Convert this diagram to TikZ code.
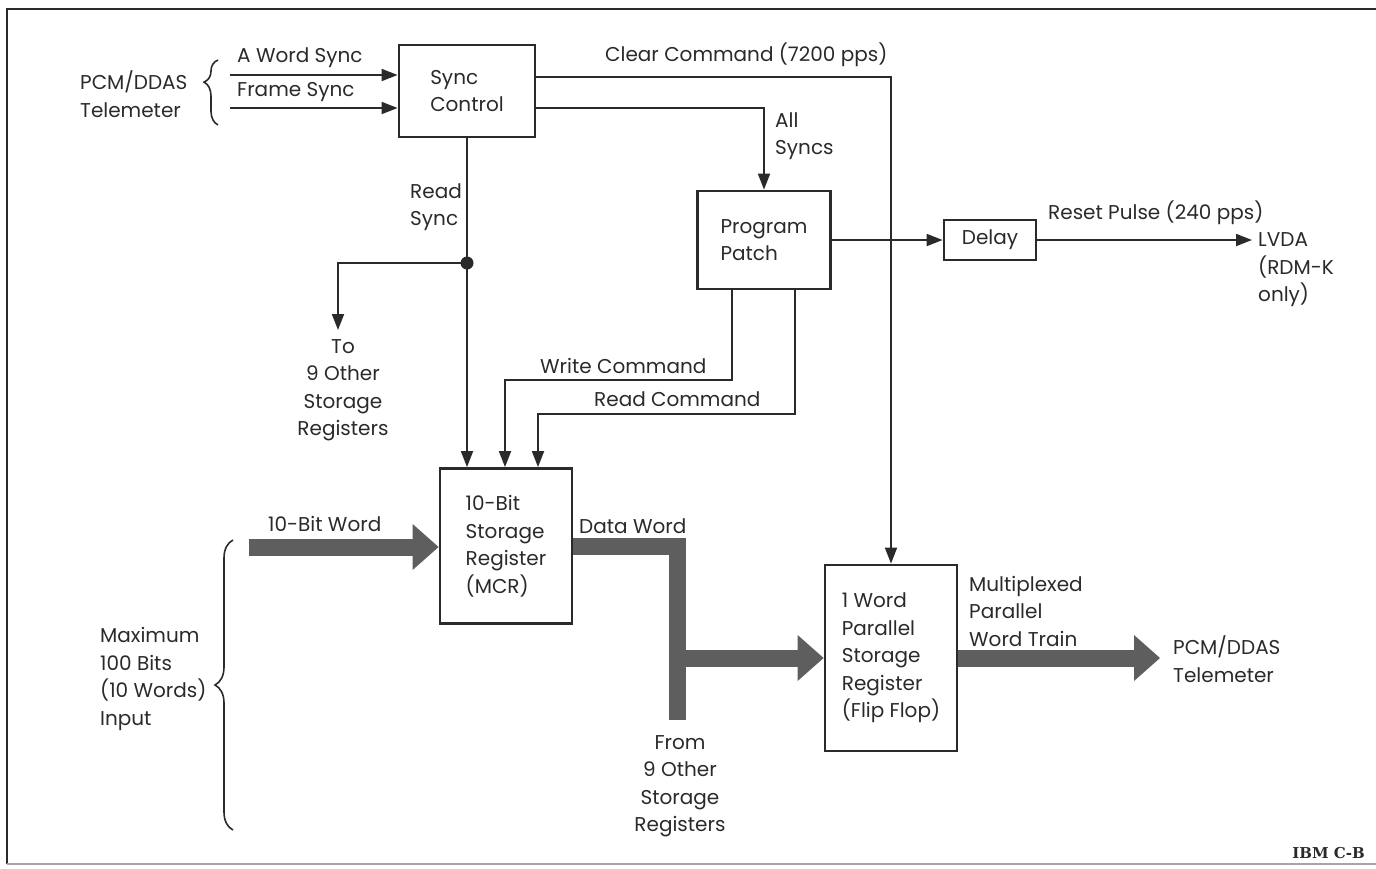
\documentclass[tikz,border=0pt]{standalone}
\usepackage{fontspec}
\setmainfont{Poppins}
\newfontfamily\ibmfont{DejaVu Serif}
\usetikzlibrary{arrows.meta,decorations.pathreplacing}
\definecolor{ink}{HTML}{2A2A2A}
\definecolor{fatgray}{HTML}{5E5E5E}
\begin{document}
\begin{tikzpicture}[x=1pt,y=-1pt,
  every node/.style={font=\fontsize{20}{27.5}\selectfont, text=ink, inner sep=0pt},
  box/.style={draw=ink, line width=2.8pt, align=left},
  lbl/.style={align=left, anchor=west},
  conn/.style={draw=ink, line width=1.8pt},
  arr/.style={conn, -{Triangle[length=16pt,width=12pt]}},
  fat/.style={draw=fatgray, line width=17pt, -{Triangle[length=26pt,width=46pt,line width=0pt]}},
  fatline/.style={draw=fatgray, line width=17pt, line join=miter, line cap=butt},
  brc/.style={draw=ink, line width=1.6pt, decorate}]
\useasboundingbox (0,0) rectangle (1376,868);
% frame
\draw[ink, line width=2.5pt] (1376,9) -- (7,9) -- (7,864);
\draw[black!35, line width=2pt] (7,864) -- (1376,864);

% boxes
\node[box, minimum width=136pt, minimum height=92pt] (sync) at (467,91) {Sync\\Control};
\node[box, minimum width=133pt, minimum height=98pt] (pp) at (764,240) {Program\\Patch};
\node[box, minimum width=92pt, minimum height=40pt] (delay) at (990,240) {Delay};
\node[box, minimum width=132pt, minimum height=155pt] (mcr) at (506,546) {10-Bit\\Storage\\Register\\(MCR)};
\node[box, minimum width=132pt, minimum height=186pt] (ff) at (891,658) {1 Word\\Parallel\\Storage\\Register\\(Flip Flop)};

% labels
\node[lbl] (pcm1) at (80,94) {PCM/DDAS\\Telemeter};
\node[lbl] (aws) at (237,58) {A Word Sync};
\node[lbl] (fs) at (237,92) {Frame Sync};
\node[lbl] (ccl) at (605,55) {Clear Command (7200 pps)};
\node[lbl] (asl) at (775,136) {All\\Syncs};
\node[lbl] (rsl) at (410,207) {Read\\Sync};
\node[align=center] (to9) at (343,390) {To\\9 Other\\Storage\\Registers};
\node[lbl] (wcl) at (540,366) {Write Command};
\node[lbl] (rcl) at (594,399) {Read Command};
\node[lbl] (rpl) at (1048,213) {Reset Pulse (240 pps)};
\node[lbl] (lvda) at (1258,270) {LVDA\\(RDM-K\\only)};
\node[lbl] (tbw) at (268,524) {10-Bit Word};
\node[lbl] (dwl) at (579,526) {Data Word};
\node[align=center] (from9) at (680,786) {From\\9 Other\\Storage\\Registers};
\node[lbl] (mpx) at (969,611) {Multiplexed\\Parallel\\Word Train};
\node[lbl] (pcm2) at (1173,659) {PCM/DDAS\\Telemeter};
\node[lbl] (maxl) at (100,679) {Maximum\\100 Bits\\(10 Words)\\Input};
\node[anchor=east, font=\ibmfont\bfseries\fontsize{15}{15}\selectfont] (ibm) at (1365,853) {IBM C-B};

% braces
\draw[brc, decoration={brace, amplitude=14pt, aspect=0.66}] (218,125) -- (218,60);
\draw[brc, decoration={brace, amplitude=18pt, aspect=0.5}] (233,830) -- (233,540);

% sync inputs
\coordinate (aw) at (230,75);
\coordinate (fw) at (230,108);
\draw[arr] (aw) -- (aw -| sync.west);
\draw[arr] (fw) -- (fw -| sync.west);

% clear command
\coordinate (cc) at (891,77);
\draw[arr] (cc -| sync.east) -- (cc) -- (ff.north);

% all syncs
\coordinate (as) at (764,108);
\draw[arr] (as -| sync.east) -- (as) -- (pp.north);

% read sync
\draw[arr] (sync.south) -- (sync.south |- mcr.north);
\coordinate (j) at (467,263);
\coordinate (tt) at (338,330);
\fill[ink] (j) circle (6.5pt);
\draw[arr] (j) -| (tt);

% write / read command
\coordinate (w1) at (732,380);
\coordinate (w2) at (505,380);
\draw[arr] (w1 |- pp.south) -- (w1) -- (w2) -- (w2 |- mcr.north);
\coordinate (r1) at (795,414);
\coordinate (r2) at (538,414);
\draw[arr] (r1 |- pp.south) -- (r1) -- (r2) -- (r2 |- mcr.north);

% delay chain
\draw[arr] (pp.east) -- (delay.west);
\draw[arr, shorten >=6pt] (delay.east) -- (delay.east -| lvda.west);

% fat data paths
\coordinate (inw) at (249,547);
\draw[fat] (inw) -- (inw -| mcr.west);
\coordinate (dw) at (677.5,720);
\draw[fatline] (mcr.east) -- (mcr.east -| dw) -- (dw);
\coordinate (br) at (677.5,658);
\draw[fat] (br) -- (br -| ff.west);
\coordinate (outtip) at (1160,658);
\draw[fat] (ff.east) -- (outtip);
\end{tikzpicture}
\end{document}
